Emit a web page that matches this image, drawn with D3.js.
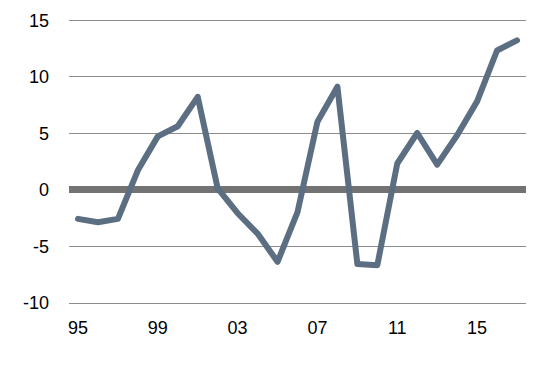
<!DOCTYPE html>
<html>
<head>
<meta charset="utf-8">
<script src="https://cdn.jsdelivr.net/npm/d3@7"></script>
<style>
  body { margin: 0; background: #fff; }
  text { font-family: "Liberation Sans", Arial, sans-serif; }
</style>
</head>
<body>
<div class="board"></div>
<script>
// data
var years = d3.range(1995, 2018);
var values = [-2.6, -2.9, -2.6, 1.7, 4.7, 5.6, 8.2, 0.1, -2.1, -3.9, -6.4, -2.0,
              6.0, 9.1, -6.6, -6.7, 2.3, 5.0, 2.2, 4.8, 7.8, 12.3, 13.2];
var yTicks = [-10, -5, 0, 5, 10, 15];
var xTicks = [1995, 1999, 2003, 2007, 2011, 2015];

var width = 544, height = 365;

var svg = d3.select('.board').append('svg')
  .attr('width', width)
  .attr('height', height);

var x = d3.scaleLinear().domain([1995, 2017]).range([78, 517]);
var y = d3.scaleLinear().domain([-10, 15]).range([302.5, 20]);

// gridlines
svg.selectAll('.grid')
  .data(yTicks.filter(function(d){ return d !== 0 })).enter().append('line')
  .attr('class', 'grid')
  .attr('x1', 69)
  .attr('x2', 526)
  .attr('y1', function(d){ return Math.round(y(d)) + 0.5 })
  .attr('y2', function(d){ return Math.round(y(d)) + 0.5 })
  .attr('stroke', '#8c8c8c')
  .attr('stroke-width', 1.2)

// zero line
svg.append('line')
  .attr('x1', 69)
  .attr('x2', 526)
  .attr('y1', y(0))
  .attr('y2', y(0))
  .attr('stroke', '#737373')
  .attr('stroke-width', 7)

// y labels
svg.selectAll('.ylab')
  .data(yTicks).enter().append('text')
  .attr('class', 'ylab')
  .attr('x', 49)
  .attr('y', function(d){ return y(d) + 6.5 })
  .attr('text-anchor', 'end')
  .attr('font-size', '18px')
  .attr('fill', '#000')
  .text(function(d){ return d })

// x labels
svg.selectAll('.xlab')
  .data(xTicks).enter().append('text')
  .attr('class', 'xlab')
  .attr('x', function(d){ return x(d) })
  .attr('y', 334)
  .attr('text-anchor', 'middle')
  .attr('font-size', '18px')
  .attr('fill', '#000')
  .text(function(d){ return String(d).slice(2) })

// series
var line = d3.line()
  .x(function(d, i){ return x(years[i]) })
  .y(function(d){ return y(d) })

svg.append('path')
  .datum(values)
  .attr('d', line)
  .attr('fill', 'none')
  .attr('stroke', '#5b6e82')
  .attr('stroke-width', 6)
  .attr('stroke-linejoin', 'round')
  .attr('stroke-linecap', 'round')
</script>
</body>
</html>
